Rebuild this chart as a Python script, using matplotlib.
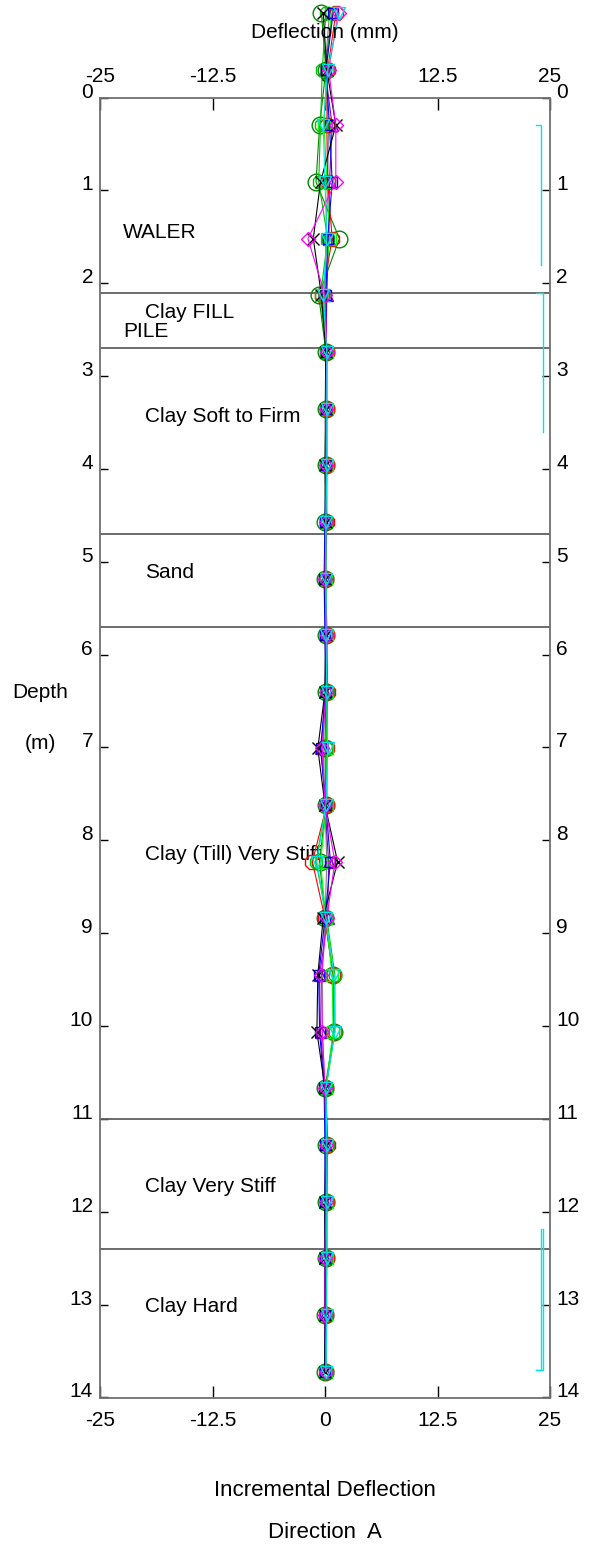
import matplotlib
matplotlib.use('Agg')
import matplotlib.pyplot as plt
import matplotlib.transforms as mtransforms

plt.rcParams['font.family'] = ['Liberation Sans', 'DejaVu Sans']

# ---------------- data ----------------
depths = [-0.91, -0.30, 0.30, 0.91, 1.52, 2.13, 2.74, 3.35, 3.96, 4.57, 5.18, 5.79,
          6.40, 7.01, 7.62, 8.23, 8.84, 9.45, 10.06, 10.67, 11.28, 11.89, 12.50, 13.11, 13.72]

s_black = [-0.2, 0.2, 1.2, -0.5, -1.3, -0.4, 0.1, 0.1, 0.0, 0.1, 0.0, 0.1, 0.0, -0.8, 0.0, 1.4, -0.2, -0.8, -0.9, 0.0, 0.1, 0.0, 0.0, 0.0, 0.0]
s_red = [1.2, 0.3, 0.2, 0.3, 0.8, -0.3, 0.2, 0.2, 0.2, 0.2, 0.1, 0.2, 0.3, 0.2, 0.2, -1.4, 0.0, 0.9, 1.0, 0.1, 0.3, 0.2, 0.2, 0.1, 0.1]
s_green = [0.1, -0.3, -0.5, -0.7, 0.3, -0.5, 0.1, 0.1, 0.1, 0.1, 0.0, 0.1, 0.2, 0.1, 0.1, -1.0, 0.2, 1.1, 1.1, 0.1, 0.2, 0.2, 0.1, 0.1, 0.1]
s_blue = [0.9, 0.1, 0.5, 0.8, 0.3, 0.1, 0.1, 0.1, 0.1, 0.0, -0.1, 0.0, 0.1, -0.5, 0.1, 0.6, 0.0, -0.7, -0.6, -0.1, 0.0, 0.0, 0.0, 0.0, 0.0]
s_magenta = [1.5, 0.4, 1.2, 1.2, -1.9, 0.0, 0.2, 0.1, 0.1, 0.1, 0.0, 0.2, 0.1, -0.3, 0.0, 1.1, 0.2, -0.4, -0.3, 0.0, 0.1, 0.1, 0.0, 0.0, 0.1]
s_cyan = [1.6, 0.3, -0.2, 0.0, 0.2, -0.2, 0.2, 0.2, 0.2, 0.1, 0.1, 0.1, 0.2, 0.3, 0.1, -0.9, 0.1, 1.0, 1.1, 0.1, 0.2, 0.2, 0.2, 0.2, 0.1]
s_dkgreen = [-0.4, 0.1, -0.6, -1.0, 1.6, -0.7, 0.1, 0.1, 0.1, 0.0, 0.0, 0.1, 0.1, 0.0, 0.1, -0.6, 0.0, 0.9, 1.0, 0.0, 0.1, 0.1, 0.1, 0.0, 0.0]
s_purple = [0.8, 0.0, 0.8, 0.5, 0.4, 0.2, 0.1, 0.1, 0.1, 0.1, 0.0, 0.1, 0.0, -0.4, 0.0, 0.4, 0.3, -0.6, -0.5, 0.0, 0.1, 0.0, 0.0, 0.0, 0.0]
s_lime = [0.7, 0.2, -0.1, 0.2, 0.5, -0.1, 0.2, 0.2, 0.2, 0.1, 0.1, 0.2, 0.2, 0.2, 0.2, -0.5, 0.1, 0.8, 0.9, 0.1, 0.2, 0.2, 0.2, 0.1, 0.1]
s_gray = [0.5, 0.0, 0.4, 0.3, 0.1, 0.0, 0.1, 0.0, 0.0, 0.0, 0.0, 0.0, 0.0, -0.2, 0.0, 0.2, 0.0, -0.3, -0.3, 0.0, 0.0, 0.0, 0.0, 0.0, 0.0]

series = [
    (s_gray, '#808080', 's', 7),
    (s_purple, '#8000c0', '^', 8),
    (s_dkgreen, '#008800', 'o', 12),
    (s_red, '#ff0000', '8', 11),
    (s_lime, '#00ff00', 's', 8),
    (s_green, '#00c000', '8', 10),
    (s_blue, '#0000ff', 's', 7),
    (s_black, '#000000', 'x', 8),
    (s_magenta, '#ff00ff', 'D', 7),
    (s_cyan, '#00e0e0', 'v', 9),
]

layer_bounds = [2.1, 2.7, 4.7, 5.7, 11.0, 12.4]
layer_names = ['WALER', 'Clay FILL', 'PILE', 'Clay Soft to Firm', 'Sand',
               'Clay (Till) Very Stiff', 'Clay Very Stiff', 'Clay Hard']
layer_x = [-22.4, -20.0, -22.4, -20.0, -20.0, -20.0, -20.0, -20.0]
layer_y = [1.45, 2.32, 2.52, 3.43, 5.12, 8.15, 11.73, 13.02]

bracket_x = [[23.4, 24.0, 24.0], [23.4, 24.2, 24.2], [24.0, 24.0, 23.4], [24.2, 24.2, 23.4]]
bracket_y = [[0.30, 0.30, 1.80], [2.10, 2.10, 3.60], [12.19, 13.70, 13.70], [12.19, 13.70, 13.70]]

x_ticks = [-25, -12.5, 0, 12.5, 25]
x_ticklabels = ['-25', '-12.5', '0', '12.5', '25']
y_ticks = list(range(0, 15))
y_ticklabels = [str(v) for v in y_ticks]

# ---------------- figure ----------------
W, H = 595, 1552
fig = plt.figure(figsize=(W / 100, H / 100), dpi=100)
ax = fig.add_axes([100 / W, 1 - 1397.5 / H, 450 / W, 1300 / H])
ax.set_xlim(-25, 25)
ax.set_ylim(14, 0)

for sp in ax.spines.values():
    sp.set_color('#707070')
    sp.set_linewidth(1.3)

ax.set_xticks(x_ticks)
ax.set_yticks(y_ticks)
ax.tick_params(axis='x', direction='in', length=8.6, width=1, color='black',
               top=True, bottom=True, labelbottom=False, labeltop=False)
ax.tick_params(axis='y', direction='in', length=5.8, width=1, color='black',
               left=True, right=True, labelleft=False, labelright=False)

fs = 15
# y tick labels (baseline on tick)
ytrans = mtransforms.blended_transform_factory(ax.transAxes, ax.transData)
for v, lab in zip(y_ticks, y_ticklabels):
    ax.text(-7 / 450, v, lab, transform=ytrans, ha='right', va='baseline', fontsize=fs)
    ax.text(1 + 6 / 450, v, lab, transform=ytrans, ha='left', va='baseline', fontsize=fs)

xtrans = mtransforms.blended_transform_factory(ax.transData, ax.transAxes)
for v, lab in zip(x_ticks, x_ticklabels):
    ax.text(v, 1 + 16 / 1300, lab, transform=xtrans, ha='center', va='baseline', fontsize=fs)
    ax.text(v, -14 / 1300, lab, transform=xtrans, ha='center', va='top', fontsize=fs)

# layer boundaries
for b in layer_bounds:
    ax.axhline(b, color='#606060', lw=1.3)

for name, lx, ly in zip(layer_names, layer_x, layer_y):
    ax.text(lx, ly, name, ha='left', va='center', fontsize=fs)

# brackets
for bx, by in zip(bracket_x, bracket_y):
    ax.plot(bx, by, color='#00e5e5', lw=1.0, clip_on=False)

# series
for vals, c, m, ms in series:
    ax.plot(vals, depths, color=c, lw=0.8, marker=m, ms=ms, mfc='none', mec=c,
            mew=1.0, clip_on=False, zorder=3)

# titles / labels
fig.text(325 / W, 1 - 32 / H, 'Deflection (mm)', ha='center', va='center', fontsize=fs)
fig.text(40 / W, 1 - 693 / H, 'Depth', ha='center', va='center', fontsize=fs)
fig.text(40 / W, 1 - 743 / H, '(m)', ha='center', va='center', fontsize=fs)
fig.text(325 / W, 1 - 1490 / H, 'Incremental Deflection', ha='center', va='center', fontsize=fs + 1)
fig.text(325 / W, 1 - 1532 / H, 'Direction  A', ha='center', va='center', fontsize=fs + 1)

fig.savefig('out.png', dpi=100)
